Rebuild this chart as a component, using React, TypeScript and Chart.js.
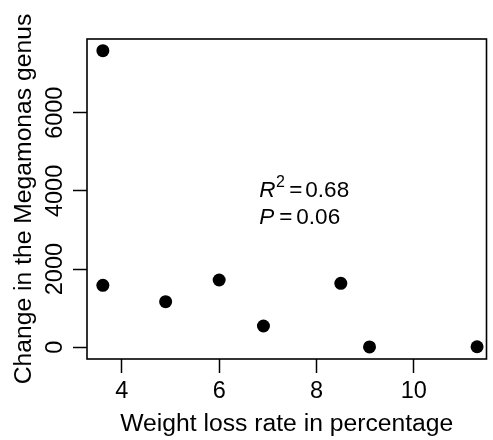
import { useEffect, useRef } from 'react';
import { Chart, registerables } from 'chart.js';

Chart.register(...registerables);

const weightLoss = [3.61, 3.61, 4.9, 6.0, 6.91, 8.5, 9.09, 11.3];
const megamonasChange = [7586, 1586, 1166, 1722, 545, 1637, 10, 15];
const xTicks = [4, 6, 8, 10];
const yTicks = [0, 2000, 4000, 6000];
const xTitle = 'Weight loss rate in percentage';
const yTitle = 'Change in the Megamonas genus';
const r2Value = '0.68';
const pValue = '0.06';
const annotX = 6.826;
const annotY = [3852, 3146];

const FONT = "'Liberation Sans', Arial, Helvetica, sans-serif";

const boxPlugin = {
  id: 'boxAndText',
  afterDraw(chart: any) {
    const { ctx, chartArea: a, scales } = chart;
    ctx.save();
    ctx.strokeStyle = '#000';
    ctx.lineWidth = 1.6;
    ctx.strokeRect(a.left, a.top, a.right - a.left, a.bottom - a.top);

    const x0 = scales.x.getPixelForValue(annotX);
    const y1 = scales.y.getPixelForValue(annotY[0]);
    const y2 = scales.y.getPixelForValue(annotY[1]);
    ctx.fillStyle = '#000';
    ctx.textAlign = 'left';
    ctx.textBaseline = 'alphabetic';
    // R^2 = 0.68
    ctx.font = `italic 22.5px ${FONT}`;
    ctx.fillText('R', x0, y1);
    const rw = ctx.measureText('R').width;
    ctx.font = `16px ${FONT}`;
    ctx.fillText('2', x0 + rw + 0.5, y1 - 10);
    ctx.font = `22.5px ${FONT}`;
    ctx.fillText('=', x0 + 30, y1);
    ctx.fillText(r2Value, x0 + 46, y1);
    // P = 0.06
    ctx.font = `italic 22.5px ${FONT}`;
    ctx.fillText('P', x0, y2);
    ctx.font = `22.5px ${FONT}`;
    ctx.fillText('=', x0 + 20, y2);
    ctx.fillText(pValue, x0 + 37, y2);
    ctx.restore();
  },
};

export default function App() {
  const canvasRef = useRef<HTMLCanvasElement | null>(null);

  useEffect(() => {
    const canvas = canvasRef.current;
    if (!canvas) return;
    const chart = new Chart(canvas, {
      type: 'scatter',
      data: {
        datasets: [
          {
            data: weightLoss.map((x, i) => ({ x, y: megamonasChange[i] })),
            pointRadius: 6.5,
            pointHoverRadius: 6.5,
            backgroundColor: '#000',
            borderColor: '#000',
            borderWidth: 0,
            showLine: false,
          },
        ],
      },
      options: {
        animation: false,
        responsive: false,
        layout: { padding: { top: 39, right: 1, left: 0, bottom: 0 } },
        plugins: { legend: { display: false }, tooltip: { enabled: false } },
        scales: {
          x: {
            type: 'linear',
            min: 3.284,
            max: 11.494,
            afterBuildTicks: (s: any) => {
              s.ticks = xTicks.map((v) => ({ value: v }));
            },
            afterFit: (s: any) => {
              s.height = 81;
            },
            border: { display: false },
            grid: {
              drawOnChartArea: false,
              drawTicks: true,
              tickLength: 14,
              tickColor: '#000',
              tickWidth: 1.5,
            },
            ticks: {
              color: '#000',
              font: { family: FONT, size: 23.5 },
              padding: 4,
              maxRotation: 0,
              autoSkip: false,
              callback: (v: any) => String(v),
            },
            title: {
              display: true,
              text: xTitle,
              color: '#000',
              font: { family: FONT, size: 24.7 },
              padding: { top: 0, bottom: 1 },
            },
          },
          y: {
            type: 'linear',
            min: -299,
            max: 7885,
            afterBuildTicks: (s: any) => {
              s.ticks = yTicks.map((v) => ({ value: v }));
            },
            afterFit: (s: any) => {
              s.width = 87;
            },
            border: { display: false },
            grid: {
              drawOnChartArea: false,
              drawTicks: true,
              tickLength: 14,
              tickColor: '#000',
              tickWidth: 1.5,
            },
            ticks: {
              color: '#000',
              font: { family: FONT, size: 23.5 },
              padding: -9,
              minRotation: 90,
              maxRotation: 90,
              crossAlign: 'center',
              autoSkip: false,
              callback: (v: any) => String(v),
            },
            title: {
              display: true,
              text: yTitle,
              color: '#000',
              font: { family: FONT, size: 24.7 },
              padding: { top: 9, bottom: 0 },
            },
          },
        },
      },
      plugins: [boxPlugin],
    } as any);
    return () => chart.destroy();
  }, []);

  return (
    <div style={{ position: 'fixed', left: 0, top: 0, width: 493, height: 440, background: '#fff' }}>
      <canvas ref={canvasRef} width={493} height={440} style={{ display: 'block', width: 493, height: 440 }} />
    </div>
  );
}
